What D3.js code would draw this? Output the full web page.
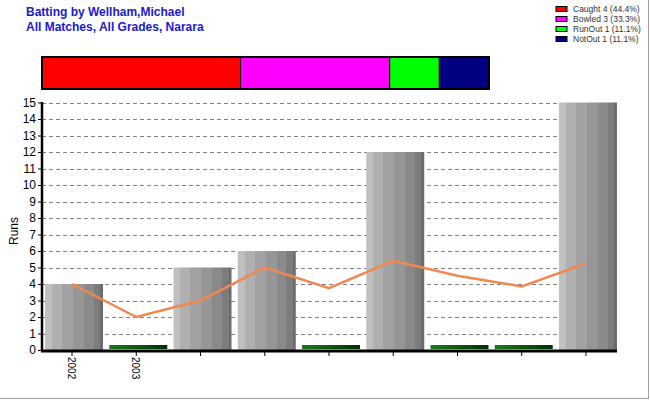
<!DOCTYPE html>
<html><head><meta charset="utf-8">
<script src="https://cdn.jsdelivr.net/npm/d3@7"></script>
<style>body{margin:0;background:#fff}svg{display:block;font-family:Arial,"Liberation Sans",sans-serif}</style>
</head><body><svg id="c" width="650" height="400"></svg>
<script>
const titleLines = ["Batting by Wellham,Michael", "All Matches, All Grades, Narara"];
const categories = ["m1","m2","m3","m4","m5","m6","m7","m8","m9"];
const xTickLabels = ["2002","2003","","","","","","",""];
const runs = [4, 0, 5, 6, 0, 12, 0, 0, 15];
const average = [4, 2, 3, 5, 3.75, 5.4, 4.5, 3.857, 5.25];
const yTicks = [0,1,2,3,4,5,6,7,8,9,10,11,12,13,14,15];
const dismissals = ["Caught","Bowled","RunOut","NotOut"];
const dismissalCounts = [4, 3, 1, 1];
const dismissalPct = ["44.4%","33.3%","11.1%","11.1%"];
const dismissalColors = ["#ff0000","#ff00ff","#00ff00","#000080"];

const svg = d3.select("#c");
const defs = svg.append("defs");
// bar stripe gradient
const stripes = ["#c0c0c0","#b0b0b0","#a2a2a2","#969696","#8a8a8a","#7c7c7c","#6c6c6c"];
const gBar = defs.append("linearGradient").attr("id","gbar").attr("x1","0").attr("x2","1").attr("y1","0").attr("y2","0");
const offs = [0,0.12,0.29,0.48,0.67,0.84,0.95,1];
stripes.forEach((c,i)=>{
  gBar.append("stop").attr("offset",offs[i]).attr("stop-color",c);
  gBar.append("stop").attr("offset",offs[i+1]).attr("stop-color",c);
});
const gDuck = defs.append("linearGradient").attr("id","gduck").attr("x1","0").attr("x2","1");
gDuck.append("stop").attr("offset",0).attr("stop-color","#1c7a1c");
gDuck.append("stop").attr("offset",1).attr("stop-color","#003000");

// titles
svg.selectAll(".title").data(titleLines).join("text")
  .attr("x",26).attr("y",(d,i)=>16+i*15)
  .attr("font-size",12).attr("font-weight","bold").attr("fill","#1a1acc").text(d=>d);

// border
svg.append("line").attr("x1",648.5).attr("x2",648.5).attr("y1",0).attr("y2",399).attr("stroke","#a0a0a0");
svg.append("line").attr("x1",0).attr("x2",649).attr("y1",398.5).attr("y2",398.5).attr("stroke","#a0a0a0");

// legend
const leg = svg.append("g");
dismissals.forEach((d,i)=>{
  leg.append("rect").attr("x",556).attr("y",6.5+i*10).attr("width",11).attr("height",5)
    .attr("fill",dismissalColors[i]).attr("stroke","#000").attr("stroke-width",1);
  leg.append("text").attr("x",573).attr("y",12+i*10).attr("font-size",8.5).attr("fill","#333")
    .text(`${d} ${dismissalCounts[i]} (${dismissalPct[i]})`);
});

// stacked dismissal bar
const total = d3.sum(dismissalCounts);
const sx = d3.scaleLinear().domain([0,total]).range([42,489]);
const cum = d3.cumsum(dismissalCounts);
svg.append("g").selectAll("rect").data(dismissalCounts).join("rect")
  .attr("x",(d,i)=>sx(cum[i]-d)).attr("width",d=>sx(d)-sx(0))
  .attr("y",57).attr("height",32).attr("fill",(d,i)=>dismissalColors[i])
  .attr("stroke","#000").attr("stroke-width",1);
svg.append("rect").attr("x",sx(0)).attr("y",57).attr("width",sx(total)-sx(0)).attr("height",32)
  .attr("fill","none").attr("stroke","#000").attr("stroke-width",2);

// main chart
const left = 42, right = 617;
const x = d3.scaleBand().domain(categories).range([42,620]).paddingInner(0.097).paddingOuter(0.047);
const y = d3.scaleLinear().domain([0,15]).range([350,102.5]);
const cx = d => x(d) + x.bandwidth()/2 - 2;

// grid
svg.append("g").selectAll("line").data(yTicks.filter(t=>t>0)).join("line")
  .attr("x1",left).attr("x2",right).attr("y1",d=>Math.round(y(d))+0.5).attr("y2",d=>Math.round(y(d))+0.5)
  .attr("stroke","#808080").attr("stroke-dasharray","4,3");

// bars
svg.append("g").selectAll("rect").data(runs).join("rect")
  .attr("x",(d,i)=>x(categories[i])).attr("width",x.bandwidth())
  .attr("y",d=> d>0 ? y(d) : y(0)-5).attr("height",d=> d>0 ? y(0)-y(d) : 4)
  .attr("fill",d=> d>0 ? "url(#gbar)" : "url(#gduck)");

// average line
svg.append("path").datum(average)
  .attr("d",d3.line().x((d,i)=>cx(categories[i])).y(d=>y(d)))
  .attr("fill","none").attr("stroke","#f08850").attr("stroke-width",2.5);

// y axis
const yAxis = svg.append("g").attr("transform",`translate(${left},0)`)
  .call(d3.axisLeft(y).tickValues(yTicks).tickSize(4).tickPadding(2));
yAxis.select(".domain").remove();
yAxis.selectAll("text").attr("font-size",12).attr("fill","#000").attr("font-family","Arial,'Liberation Sans',sans-serif");
yAxis.selectAll(".tick line").attr("stroke","#000");
svg.append("line").attr("x1",left).attr("x2",left).attr("y1",102).attr("y2",351).attr("stroke","#000").attr("stroke-width",2.5);

// x axis
svg.append("line").attr("x1",left-1).attr("x2",right).attr("y1",351).attr("y2",351).attr("stroke","#000").attr("stroke-width",3);
const xt = svg.append("g").selectAll("g").data(categories).join("g")
  .attr("transform",d=>`translate(${cx(d)},352)`);
xt.append("line").attr("y1",0).attr("y2",4).attr("stroke","#000");
xt.append("text").text((d,i)=>xTickLabels[i])
  .attr("transform","translate(-4,5) rotate(90)").attr("font-size",10).attr("fill","#000");

// y label
svg.append("text").attr("transform","translate(18,231) rotate(-90)").attr("text-anchor","middle")
  .attr("font-size",12).attr("fill","#000").text("Runs");
</script></body></html>
